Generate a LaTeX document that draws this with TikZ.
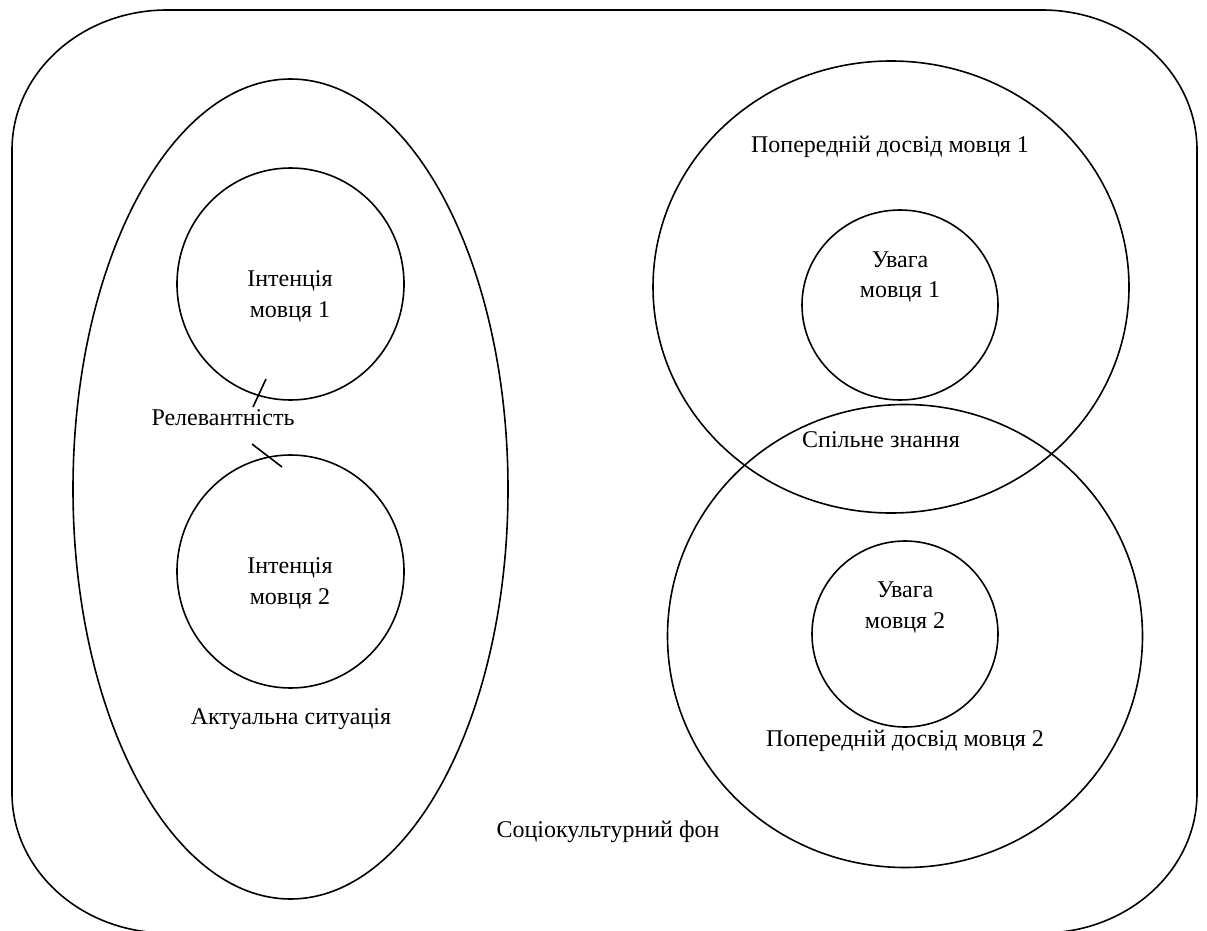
\documentclass[tikz,border=0pt]{standalone}
\usepackage{fontspec}
\setmainfont{Liberation Serif}
\begin{document}
\begin{tikzpicture}[x=1pt,y=-1pt,
  shp/.style={draw, line width=1.6pt},
  lbl/.style={font=\fontsize{24}{32}\selectfont, inner sep=0pt, anchor=base}]
\useasboundingbox (0,0) rectangle (1207,931);
% outer rounded frame
\draw[shp] (167,10) -- (1042,10)
  arc[start angle=-90, end angle=0, x radius=155, y radius=140]
  -- (1197,793)
  arc[start angle=0, end angle=90, x radius=155, y radius=140]
  -- (167,933)
  arc[start angle=90, end angle=180, x radius=155, y radius=140]
  -- (12,150)
  arc[start angle=180, end angle=270, x radius=155, y radius=140]
  -- cycle;
% left group
\draw[shp] (290.5,489) ellipse [x radius=217.5, y radius=410];
\draw[shp] (290.5,284) ellipse [x radius=113.5, y radius=116];
\draw[shp] (290.5,571.5) ellipse [x radius=113.5, y radius=116.5];
% right group
\draw[shp] (891,287) ellipse [x radius=238, y radius=226];
\draw[shp] (900,305) ellipse [x radius=98, y radius=95];
\draw[shp] (905,636) ellipse [x radius=237.5, y radius=231.5];
\draw[shp] (905,634) ellipse [x radius=93, y radius=93];
% tick marks
\coordinate (t1a) at (266,379);
\coordinate (t1b) at (253,407);
\coordinate (t2a) at (252,444);
\coordinate (t2b) at (282,467);
\draw[shp] (t1a) -- (t1b);
\draw[shp] (t2a) -- (t2b);
% labels
\node[lbl] (i1a) at (290,286) {Інтенція};
\node[lbl] (i1b) at (290,317) {мовця 1};
\node[lbl] (i2a) at (290,573) {Інтенція};
\node[lbl] (i2b) at (290,604) {мовця 2};
\node[lbl] (rel) at (223,425) {Релевантність};
\node[lbl] (akt) at (291,724) {Актуальна ситуація};
\node[lbl] (soc) at (608,837) {Соціокультурний фон};
\node[lbl] (pd1) at (890,153) {Попередній досвід мовця 1};
\node[lbl] (u1a) at (900,267) {Увага};
\node[lbl] (u1b) at (900,297) {мовця 1};
\node[lbl] (spz) at (881,447) {Спільне знання};
\node[lbl] (u2a) at (905,597) {Увага};
\node[lbl] (u2b) at (905,628) {мовця 2};
\node[lbl] (pd2) at (905,746) {Попередній досвід мовця 2};
\end{tikzpicture}
\end{document}
